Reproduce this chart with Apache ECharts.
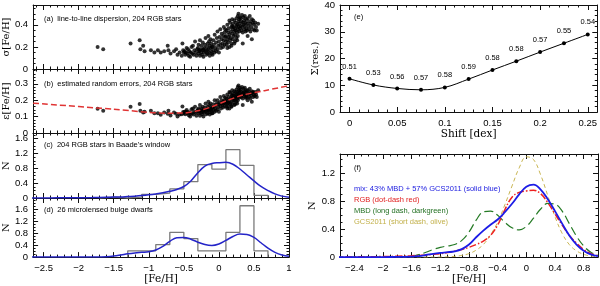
<!DOCTYPE html>
<html><head><meta charset="utf-8">
<script src="https://cdn.jsdelivr.net/npm/echarts@6/dist/echarts.min.js"></script>
<style>html,body{margin:0;padding:0;background:#fff}#c{width:600px;height:286px}</style>
</head><body><div id="c"></div>
<script>
// ---------- Panels (a),(b): 204 RGB stars ----------
const fehStars = [
 -1.73,-1.65,-1.26,-1.13,-1.12,-1.08,-1.06,-0.97,-0.92,-0.87,-0.83,-0.78,-0.73,-0.72,-0.69,-0.64,-0.61,-0.59,-0.56,-0.53,-0.52,-0.51,-0.50,
 -0.49,-0.48,-0.47,-0.46,-0.45,-0.44,-0.43,-0.42,-0.41,-0.40,-0.39,-0.38,-0.37,-0.36,-0.35,-0.34,-0.33,-0.32,-0.31,
 -0.30,-0.29,-0.29,-0.28,-0.27,-0.27,-0.26,-0.25,-0.25,-0.24,
 -0.23,-0.23,-0.22,-0.21,-0.21,-0.20,-0.19,-0.19,-0.18,-0.17,
 -0.17,-0.16,-0.16,-0.15,-0.14,-0.14,-0.13,-0.13,-0.12,-0.12,
 -0.11,-0.11,-0.10,-0.10,-0.15,-0.22,-0.28,
 -0.09,-0.09,-0.08,-0.08,-0.07,-0.06,-0.06,-0.05,-0.04,-0.04,
 -0.03,-0.02,-0.02,-0.01,0.00,0.00,0.01,0.02,0.02,0.03,
 0.04,0.04,0.05,0.06,0.06,0.07,0.07,0.08,0.08,0.09,
 0.09,0.10,
 0.10,0.11,0.11,0.12,0.12,0.13,0.13,0.14,0.14,0.15,
 0.15,0.16,0.16,0.17,0.17,0.18,0.18,0.19,0.19,0.20,
 0.20,0.20,0.21,0.21,0.22,0.22,0.23,0.23,0.23,0.24,
 0.24,0.25,0.25,0.25,0.26,0.26,0.27,0.27,0.27,0.28,
 0.28,0.28,0.29,0.29,0.29,0.30,0.30,0.12,0.15,0.18,
 0.22,0.26,0.19,
 0.31,0.31,0.32,0.32,0.33,0.33,0.34,0.34,0.35,0.35,
 0.36,0.36,0.37,0.37,0.38,0.38,0.39,0.39,0.40,0.40,
 0.41,0.41,0.42,0.43,0.43,0.44,0.45,0.45,0.46,0.47,
 0.47,0.48,0.49,0.49,0.50,0.34,
 0.51,0.52,0.53,0.54,0.56
];
const sigmaStars = [
 0.20,0.18,0.23,0.26,0.18,0.21,0.16,0.17,0.15,0.17,0.15,0.16,0.21,0.17,0.14,0.16,0.18,0.13,0.15,0.12,0.23,0.17,0.15,
 0.16,0.13,0.15,0.19,0.14,0.18,0.12,0.16,0.11,0.15,0.20,0.14,0.21,0.13,0.17,0.25,0.15,0.12,0.18,
 0.19,0.14,0.22,0.16,0.12,0.26,0.18,0.15,0.21,0.13,
 0.17,0.24,0.11,0.19,0.15,0.22,0.16,0.28,0.13,0.20,
 0.17,0.23,0.14,0.18,0.25,0.15,0.12,0.21,0.19,0.27,
 0.16,0.23,0.14,0.20,0.30,0.18,0.17,
 0.20,0.13,0.26,0.17,0.22,0.15,0.31,0.19,0.24,0.16,
 0.28,0.18,0.34,0.21,0.25,0.15,0.29,0.22,0.36,0.19,
 0.27,0.32,0.23,0.30,0.20,0.38,0.26,0.33,0.22,0.29,
 0.36,0.25,
 0.30,0.22,0.35,0.27,0.40,0.24,0.33,0.29,0.37,0.20,
 0.31,0.26,0.42,0.34,0.28,0.38,0.23,0.32,0.45,0.36,
 0.27,0.41,0.30,0.38,0.34,0.44,0.25,0.37,0.31,0.42,
 0.35,0.39,0.28,0.46,0.33,0.40,0.36,0.48,0.30,0.43,
 0.38,0.50,0.34,0.41,0.45,0.37,0.47,0.19,0.44,0.21,
 0.23,0.26,0.39,
 0.39,0.46,0.35,0.43,0.49,0.38,0.42,0.33,0.47,0.40,
 0.36,0.44,0.39,0.48,0.34,0.42,0.45,0.37,0.41,0.35,
 0.46,0.30,0.39,0.43,0.36,0.48,0.34,0.41,0.38,0.45,
 0.27,0.42,0.36,0.44,0.40,0.23,
 0.35,0.42,0.38,0.35,0.41
];
const epsStars = [
 0.148,0.135,0.16,0.176,0.135,0.125,0.13,0.135,0.12,0.121,0.111,0.125,0.117,0.135,0.107,0.125,0.118,0.101,0.112,0.115,0.162,0.128,0.12,
 0.13,0.115,0.131,0.14,0.12,0.128,0.108,0.125,0.10,0.118,0.145,0.12,0.15,0.112,0.13,0.16,0.125,0.105,0.135,
 0.14,0.12,0.15,0.13,0.105,0.17,0.138,0.125,0.15,0.115,
 0.13,0.16,0.10,0.14,0.125,0.155,0.132,0.18,0.115,0.145,
 0.138,0.16,0.12,0.14,0.17,0.128,0.112,0.15,0.142,0.18,
 0.135,0.16,0.12,0.15,0.19,0.14,0.135,
 0.155,0.12,0.175,0.14,0.16,0.13,0.20,0.15,0.17,0.135,
 0.18,0.145,0.20,0.16,0.175,0.13,0.185,0.165,0.22,0.15,
 0.18,0.20,0.17,0.19,0.155,0.225,0.18,0.20,0.165,0.19,
 0.215,0.18,
 0.19,0.16,0.21,0.18,0.235,0.165,0.20,0.185,0.22,0.15,
 0.195,0.175,0.245,0.21,0.185,0.225,0.165,0.205,0.26,0.215,
 0.185,0.24,0.20,0.23,0.21,0.255,0.175,0.225,0.20,0.25,
 0.22,0.235,0.19,0.265,0.21,0.24,0.22,0.28,0.20,0.255,
 0.23,0.29,0.215,0.245,0.26,0.225,0.275,0.15,0.25,0.16,
 0.17,0.18,0.23,
 0.235,0.265,0.22,0.25,0.28,0.23,0.245,0.21,0.27,0.24,
 0.225,0.255,0.235,0.275,0.215,0.25,0.26,0.225,0.24,0.215,
 0.26,0.20,0.235,0.25,0.22,0.27,0.21,0.24,0.23,0.255,
 0.19,0.245,0.22,0.25,0.235,0.17,
 0.225,0.25,0.235,0.22,0.26
];
// red dashed trend of random errors, panel (b)
const epsFitX = [-2.65,-1.5,-0.75,-0.5,-0.3,-0.1,0.1,0.35,0.65,1.0];
const epsFitY = [0.182,0.145,0.121,0.122,0.135,0.16,0.195,0.232,0.258,0.288];

// ---------- Histograms (c),(d) ----------
const rgbHistEdges = [-1.7,-1.5,-1.3,-1.1,-0.9,-0.7,-0.5,-0.3,-0.1,0.1,0.3,0.5,0.7];
const rgbHist      = [0.025,0,0.025,0.10,0.13,0.245,0.44,0.90,0.78,1.30,0.88,0.07];
const mbdHistEdges = [-1.3,-1.1,-0.9,-0.7,-0.5,-0.3,-0.1,0.1,0.3,0.5,0.7];
const mbdHist      = [0.21,0.21,0.42,0.83,0.62,0.21,0.21,0.83,1.72,0.21];

// ---------- Smoothed distributions (c),(d),(f) ----------
const curveX   = [-2.7,-2.4,-2.2,-2.0,-1.8,-1.6,-1.5,-1.4,-1.3,-1.2,-1.1,-1.0,-0.9,-0.8,-0.7,-0.6,-0.5,-0.4,-0.3,-0.2,-0.1,0.0,0.1,0.2,0.3,0.4,0.5,0.6,0.7,0.8,0.9,1.0];
const rgbCurve = [0,0.003,0.005,0.008,0.012,0.02,0.025,0.03,0.04,0.05,0.065,0.085,0.11,0.14,0.18,0.23,0.31,0.46,0.68,0.86,0.93,0.95,0.96,0.91,0.78,0.62,0.46,0.31,0.20,0.11,0.05,0.02];
const mbdCurve = [0,0,0,0.001,0.004,0.015,0.035,0.07,0.11,0.14,0.16,0.18,0.24,0.36,0.53,0.65,0.66,0.60,0.50,0.42,0.39,0.44,0.56,0.69,0.77,0.76,0.66,0.48,0.30,0.16,0.07,0.025];
const gcsCurve = [0,0,0,0,0,0,0,0,0,0.001,0.003,0.01,0.025,0.05,0.10,0.18,0.32,0.50,0.75,1.02,1.28,1.44,1.40,1.18,0.88,0.58,0.34,0.18,0.09,0.04,0.015,0.005];
const mixCurve = [0,0,0,0.001,0.002,0.007,0.015,0.03,0.047,0.06,0.07,0.083,0.115,0.18,0.285,0.38,0.465,0.54,0.645,0.765,0.90,1.01,1.04,0.97,0.83,0.66,0.48,0.31,0.18,0.092,0.039,0.013];

// ---------- Panel (e) ----------
const shiftX = [0,0.025,0.05,0.075,0.1,0.125,0.15,0.175,0.2,0.225,0.25];
const sumRes = [12.4,10.1,8.8,8.3,9.2,12.3,15.7,19.0,22.4,25.7,29.0];
const corrLabels = ['0.51','0.53','0.56','0.57','0.58','0.59','0.58','0.58','0.57','0.55','0.54'];

// tick positions
const fehMajorL = [-2.5,-2,-1.5,-1,-0.5,0,0.5,1];
const fehMajorF = [-2.4,-2,-1.6,-1.2,-0.8,-0.4,0,0.4,0.8];
const shiftMajor = [0,0.05,0.1,0.15,0.2,0.25];

function steps(a, b, s){ const o=[]; for(let k=0;;k++){ const v=+(a+k*s).toFixed(4); if(v>b+1e-9) break; o.push(v);} return o; }
function histLine(edges, h){
  const d=[[edges[0],0]];
  for(let i=0;i<h.length;i++){ d.push([edges[i],h[i]]); d.push([edges[i+1],h[i]]); }
  d.push([edges[edges.length-1],0]);
  return d;
}
const pair = (xs, ys) => xs.map((x,i)=>[x, ys[i]]);

const AX = '#111';
const TF = 'Liberation Sans';
const minus = v => (v<0 ? '\u2212'+Math.abs(v) : String(v));

const xAxes = [], yAxes = [];
function addX(gi, min, max, majors, minors, showLabels, name, nameGap){
  const base = {type:'value', gridIndex:gi, min, max, splitLine:{show:false}};
  xAxes.push({...base, position:'bottom',
    axisLine:{show:true,onZero:false,lineStyle:{color:AX,width:1}},
    axisTick:{show:true,inside:true,length:5,customValues:majors,lineStyle:{color:AX,width:1}},
    axisLabel:{show:showLabels,customValues:majors,margin:6,formatter:minus,fontFamily:TF,fontSize:9.5,color:'#000'},
    name:name||'', nameLocation:'middle', nameGap:nameGap||0,
    nameTextStyle:{fontFamily:'DejaVu Serif',fontSize:10.5,color:'#000'}});
  const main = xAxes.length-1;
  xAxes.push({...base, position:'bottom', axisLine:{show:false,onZero:false},
    axisTick:{show:true,inside:true,length:2.5,customValues:minors,lineStyle:{color:AX,width:1}}, axisLabel:{show:false}});
  xAxes.push({...base, position:'top', axisLine:{show:true,onZero:false,lineStyle:{color:AX,width:1}},
    axisTick:{show:true,inside:true,length:5,customValues:majors,lineStyle:{color:AX,width:1}}, axisLabel:{show:false}});
  xAxes.push({...base, position:'top', axisLine:{show:false,onZero:false},
    axisTick:{show:true,inside:true,length:2.5,customValues:minors,lineStyle:{color:AX,width:1}}, axisLabel:{show:false}});
  return main;
}
function addY(gi, max, interval, minorSplit, showMax, name, nameGap){
  const base = {type:'value', gridIndex:gi, min:0, max, interval, splitLine:{show:false},
    minorTick:{show:true,splitNumber:minorSplit,length:2.5,lineStyle:{color:AX,width:1}}};
  yAxes.push({...base, position:'left',
    axisLine:{show:true,onZero:false,lineStyle:{color:AX,width:1}},
    axisTick:{show:true,inside:true,length:5,lineStyle:{color:AX,width:1}},
    axisLabel:{show:true,margin:5,showMaxLabel:showMax,fontFamily:TF,fontSize:9.5,color:'#000'},
    name:name, nameLocation:'middle', nameGap:nameGap, nameRotate:90,
    nameTextStyle:{fontFamily:'DejaVu Serif',fontSize:10,color:'#000'}});
  const main = yAxes.length-1;
  yAxes.push({...base, position:'right',
    axisLine:{show:true,onZero:false,lineStyle:{color:AX,width:1}},
    axisTick:{show:true,inside:true,length:5,lineStyle:{color:AX,width:1}}, axisLabel:{show:false}});
  return main;
}

const grids = [
  {left:31, width:258, top:5,   height:64},
  {left:31, width:258, top:69,  height:64},
  {left:31, width:258, top:133, height:65},
  {left:31, width:258, top:198, height:64},
  {left:340, width:258, top:5,  height:107},
  {left:340, width:258, top:154, height:108}
];
const fehMinorL = steps(-2.6, 1.0, 0.1);
const xa = addX(0, -2.65, 1.0, fehMajorL, fehMinorL, false);
const xb = addX(1, -2.65, 1.0, fehMajorL, fehMinorL, false);
const xc = addX(2, -2.65, 1.0, fehMajorL, fehMinorL, false);
const xd = addX(3, -2.65, 1.0, fehMajorL, fehMinorL, true, '[Fe/H]', 15);
const xe = addX(4, -0.01, 0.26, shiftMajor, steps(0, 0.26, 0.01), true, 'Shift [dex]', 15);
const xf = addX(5, -2.6, 1.0, fehMajorF, steps(-2.6, 1.0, 0.1), true, '[Fe/H]', 15);
const ya = addY(0, 0.58, 0.2, 4, false, '\u03c3[Fe/H]', 18);
const yb = addY(1, 0.39, 0.1, 5, false, '\u03b5[Fe/H]', 18);
const yc = addY(2, 1.75, 0.4, 4, false, 'N', 18);
const yd = addY(3, 1.98, 0.4, 4, false, 'N', 18);
const ye = addY(4, 40, 10, 5, true, '\u03a3(res.)', 16);
const yf = addY(5, 1.48, 0.4, 4, false, 'N', 18);

const blueK = '#2424c8';
const series = [
  {type:'scatter', xAxisIndex:xa, yAxisIndex:ya, data:pair(fehStars, sigmaStars), symbolSize:4, itemStyle:{color:'#000'}},
  {type:'scatter', xAxisIndex:xb, yAxisIndex:yb, data:pair(fehStars, epsStars), symbolSize:4, itemStyle:{color:'#000'}},
  {type:'line', xAxisIndex:xb, yAxisIndex:yb, data:pair(epsFitX, epsFitY), showSymbol:false, smooth:0.3,
    lineStyle:{color:'#e03434',width:1.5,type:[6,3]}},
  {type:'line', xAxisIndex:xc, yAxisIndex:yc, data:histLine(rgbHistEdges, rgbHist), showSymbol:false,
    lineStyle:{color:'#7a7a7a',width:1.3}},
  {type:'line', xAxisIndex:xc, yAxisIndex:yc, data:pair(curveX, rgbCurve), showSymbol:false, smooth:0.4,
    lineStyle:{color:blueK,width:1.5}},
  {type:'line', xAxisIndex:xd, yAxisIndex:yd, data:histLine(mbdHistEdges, mbdHist), showSymbol:false,
    lineStyle:{color:'#7a7a7a',width:1.3}},
  {type:'line', xAxisIndex:xd, yAxisIndex:yd, data:pair(curveX, mbdCurve), showSymbol:false, smooth:0.4,
    lineStyle:{color:blueK,width:1.5}},
  {type:'line', xAxisIndex:xe, yAxisIndex:ye, data:pair(shiftX, sumRes), smooth:0.35,
    symbol:'circle', symbolSize:4, itemStyle:{color:'#000'}, lineStyle:{color:'#000',width:1},
    label:{show:true, position:'top', distance:6, fontFamily:TF, fontSize:7.5, color:'#000',
      formatter:p=>corrLabels[p.dataIndex]}},
  {type:'line', xAxisIndex:xf, yAxisIndex:yf, data:pair(curveX, gcsCurve), showSymbol:false, smooth:0.4,
    lineStyle:{color:'#c9b654',width:1,type:[4,3]}},
  {type:'line', xAxisIndex:xf, yAxisIndex:yf, data:pair(curveX, mbdCurve), showSymbol:false, smooth:0.4,
    lineStyle:{color:'#247a24',width:1.2,type:[9,4]}},
  {type:'line', xAxisIndex:xf, yAxisIndex:yf, data:pair(curveX, rgbCurve), showSymbol:false, smooth:0.4,
    lineStyle:{color:'#ee2020',width:1.5,type:[7,2,1.5,2]}},
  {type:'line', xAxisIndex:xf, yAxisIndex:yf, data:pair(curveX, mixCurve), showSymbol:false, smooth:0.4,
    lineStyle:{color:'#1c1ce6',width:1.8}}
];

const txt = (x, y, text, color, size) => ({type:'text', x, y,
  style:{text, fill:color||'#000', font:(size||7.5)+'px "Liberation Sans"', verticalAlign:'middle'}});
const graphic = [
  txt(44, 19, '(a)  line-to-line dispersion, 204 RGB stars'),
  txt(44, 84, '(b)  estimated random errors, 204 RGB stars'),
  txt(44, 145, "(c)  204 RGB stars in Baade's window"),
  txt(44, 210, '(d)  26 microlensed bulge dwarfs'),
  txt(354, 17, '(e)'),
  txt(354, 168, '(f)'),
  txt(354, 189, 'mix: 43% MBD + 57% GCS2011 (solid blue)', '#2020e0'),
  txt(354, 200, 'RGB (dot-dash red)', '#e02020'),
  txt(354, 211, 'MBD (long dash, darkgreen)', '#237023'),
  txt(354, 222, 'GCS2011 (short dash, olive)', '#c2b04a')
];

const chart = echarts.init(document.getElementById('c'), null, {renderer:'canvas'});
chart.setOption({animation:false, backgroundColor:'#fff', grid:grids, xAxis:xAxes, yAxis:yAxes, series, graphic});
</script></body></html>
